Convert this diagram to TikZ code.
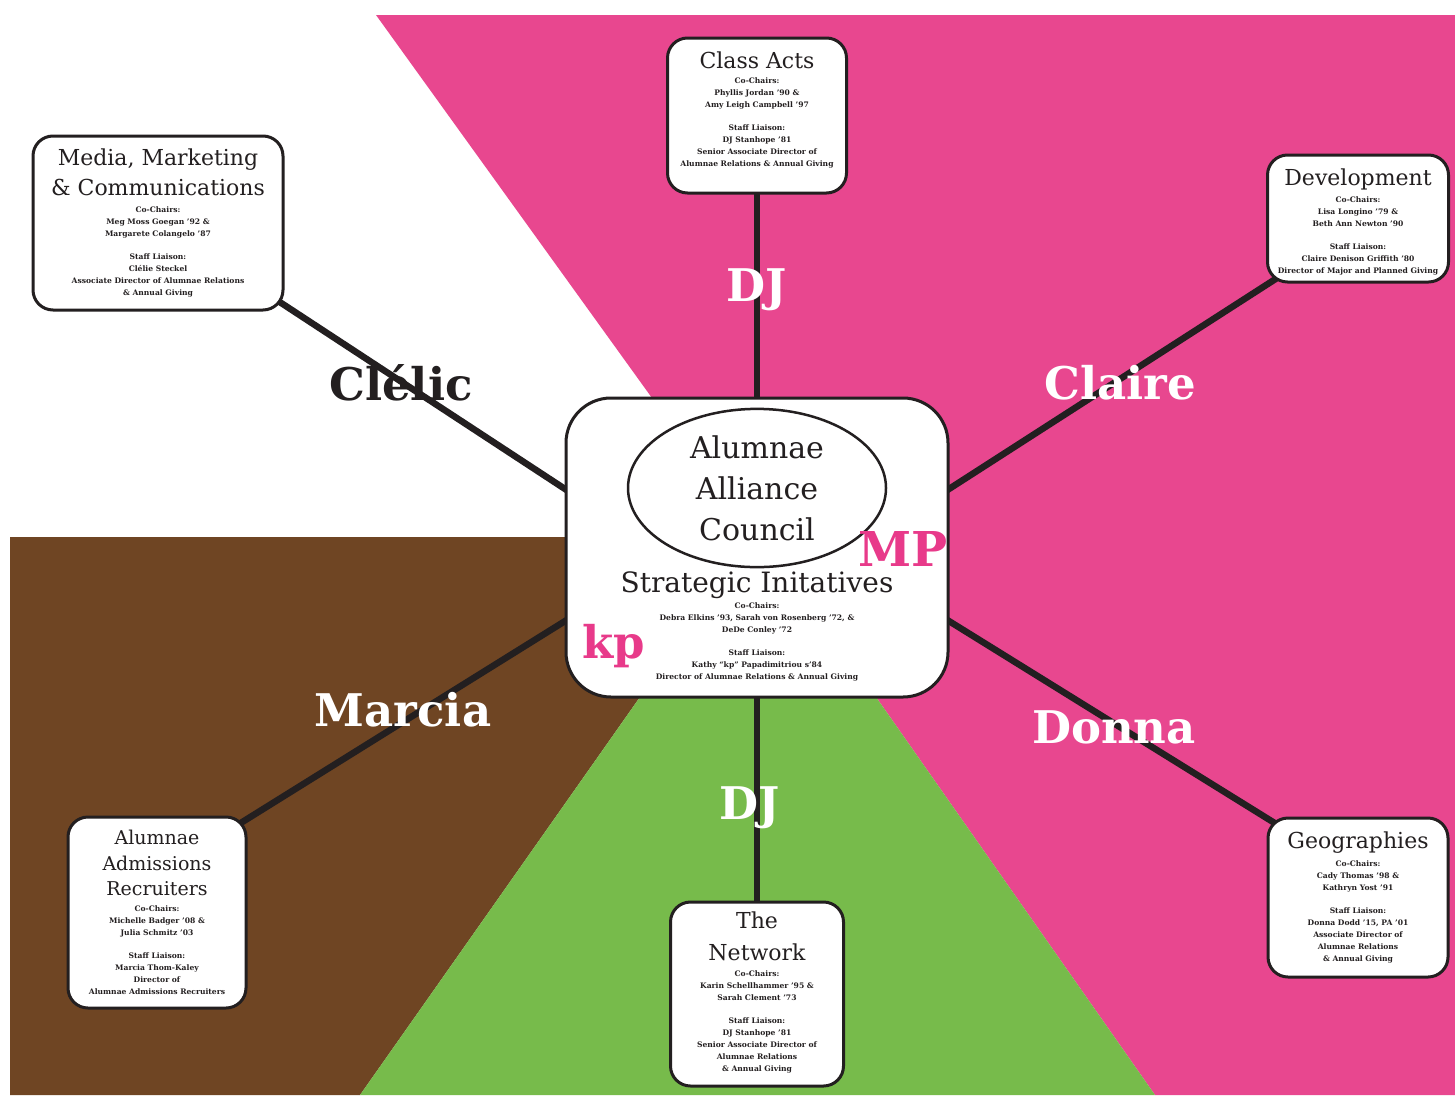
\documentclass[tikz,border=0pt]{standalone}
\usepackage{fontspec}
\setmainfont{DejaVu Serif}
\usepackage{xcolor}
\usepackage{tikz}
\usetikzlibrary{shapes.geometric}

\definecolor{ink}{HTML}{231F20}
\definecolor{pinkbg}{HTML}{E8478F}
\definecolor{pinktag}{HTML}{E83A8A}
\definecolor{brownbg}{HTML}{6F4523}
\definecolor{greenbg}{HTML}{77BB4B}

\pgfdeclarelayer{background}
\pgfsetlayers{background,main}

\begin{document}
\begin{tikzpicture}[x=1pt,y=-1pt,
	box/.style={draw=ink,line width=3pt,fill=white,rounded corners=20pt},
	boxtitle/.style={text=ink,align=center,font=\fontsize{22}{30}\selectfont},
	boxsmall/.style={text=ink,align=center,anchor=north,inner sep=0pt,font=\fontsize{7.6}{12}\selectfont\bfseries},
	tag/.style={text=white,font=\fontsize{45}{45}\selectfont\bfseries},
	link/.style={draw=ink,line width=6.5pt,shorten <=-12pt,shorten >=-12pt}]

\useasboundingbox (0,0) rectangle (1455,1095);

% the council in the middle
\node[box,rounded corners=45pt,minimum width=382pt,minimum height=299pt] (center) at (757,547.5) {};
\node[ellipse,draw=ink,line width=2.5pt,fill=white,minimum width=258pt,minimum height=150pt,
	align=center,font=\fontsize{30}{41}\selectfont,text=ink] (council) at (757,488) {Alumnae\\Alliance\\Council};
\node[text=ink,inner sep=0pt,font=\fontsize{28}{28}\selectfont] (strategic) at (757,585) {Strategic Initatives};
\node[boxsmall] (strategicsmall) at (757,603) {Co-Chairs:\\Debra Elkins '93, Sarah von Rosenberg '72, \&\\DeDe Conley '72\\[11pt]
	Staff Liaison:\\Kathy ``kp'' Papadimitriou s'84\\Director of Alumnae Relations \& Annual Giving};
\node[text=pinktag,inner sep=0pt,font=\fontsize{48}{48}\selectfont\bfseries] (mp) at (903,549) {MP};
\node[text=pinktag,font=\fontsize{45}{45}\selectfont\bfseries] (kp) at (614,646) {kp};

% committees
\node[box,minimum width=179pt,minimum height=155pt] (classacts) at (757,115.5) {};
\node[boxtitle] (classactsT) at (757,60) {Class Acts};
\node[boxsmall] (classactsS) at (757,78) {Co-Chairs:\\Phyllis Jordan '90 \&\\Amy Leigh Campbell '97\\[11pt]
	Staff Liaison:\\DJ Stanhope '81\\Senior Associate Director of\\Alumnae Relations \& Annual Giving};

\node[box,minimum width=250pt,minimum height=174pt] (media) at (158,223) {};
\node[boxtitle] (mediaT) at (158,172) {Media, Marketing\\\& Communications};
\node[boxsmall] (mediaS) at (158,207) {Co-Chairs:\\Meg Moss Goegan '92 \&\\Margarete Colangelo '87\\[11pt]
	Staff Liaison:\\Clélie Steckel\\Associate Director of Alumnae Relations\\\& Annual Giving};

\node[box,minimum width=181pt,minimum height=127pt] (dev) at (1358,218.5) {};
\node[boxtitle] (devT) at (1358,179) {Development};
\node[boxsmall] (devS) at (1358,197) {Co-Chairs:\\Lisa Longino '79 \&\\Beth Ann Newton '90\\[11pt]
	Staff Liaison:\\Claire Denison Griffith '80\\Director of Major and Planned Giving};

\node[box,minimum width=178pt,minimum height=191pt] (admissions) at (157,912.5) {};
\node[boxtitle,font=\fontsize{19}{25.5}\selectfont] (admissionsT) at (157,863) {Alumnae\\Admissions\\Recruiters};
\node[boxsmall] (admissionsS) at (157,906) {Co-Chairs:\\Michelle Badger '08 \&\\Julia Schmitz '03\\[11pt]
	Staff Liaison:\\Marcia Thom-Kaley\\Director of\\Alumnae Admissions Recruiters};

\node[box,minimum width=173pt,minimum height=184pt] (network) at (757,994) {};
\node[boxtitle,font=\fontsize{22}{32}\selectfont] (networkT) at (757,936) {The\\Network};
\node[boxsmall] (networkS) at (757,971) {Co-Chairs:\\Karin Schellhammer '95 \&\\Sarah Clement '73\\[11pt]
	Staff Liaison:\\DJ Stanhope '81\\Senior Associate Director of\\Alumnae Relations\\\& Annual Giving};

\node[box,minimum width=180pt,minimum height=159pt] (geo) at (1358,897.5) {};
\node[boxtitle] (geoT) at (1358,843) {Geographies};
\node[boxsmall] (geoS) at (1358,861) {Co-Chairs:\\Cady Thomas '98 \&\\Kathryn Yost '91\\[11pt]
	Staff Liaison:\\Donna Dodd '15, PA '01\\Associate Director of\\Alumnae Relations\\\& Annual Giving};

% colour fields and links go underneath
\begin{pgfonlayer}{background}
\fill[white] (0,0) rectangle (1455,1095);
\fill[pinkbg] (376,15) -- (1455,15) -- (1455,1095) -- (1155,1095) -- (876,697) -- (757,548) -- (652,398) -- cycle;
\fill[brownbg] (10,537) -- (600,537) -- (640,697) -- (360,1095) -- (10,1095) -- cycle;
\fill[greenbg] (640,697) -- (876,697) -- (1155,1095) -- (360,1095) -- cycle;

\draw[link] (classacts) -- (center);
\draw[link] (network) -- (center);
\draw[link] (media.-33) -- (center.163);
\draw[link] (dev.216) -- (center.17);
\draw[link] (geo.139) -- (center.-21);
\draw[link] (admissions.46) -- (center.201);
\end{pgfonlayer}

% names on the links
\node[tag] (djtop) at (757,290) {DJ};
\node[tag,text=ink] (clelie) at (401,383) {Clélic};
\node[tag] (claire) at (1120,383) {Claire};
\node[tag] (marcia) at (403,710) {Marcia};
\node[tag] (donna) at (1114,727) {Donna};
\node[tag] (djbottom) at (750,808) {DJ};

\end{tikzpicture}
\end{document}
